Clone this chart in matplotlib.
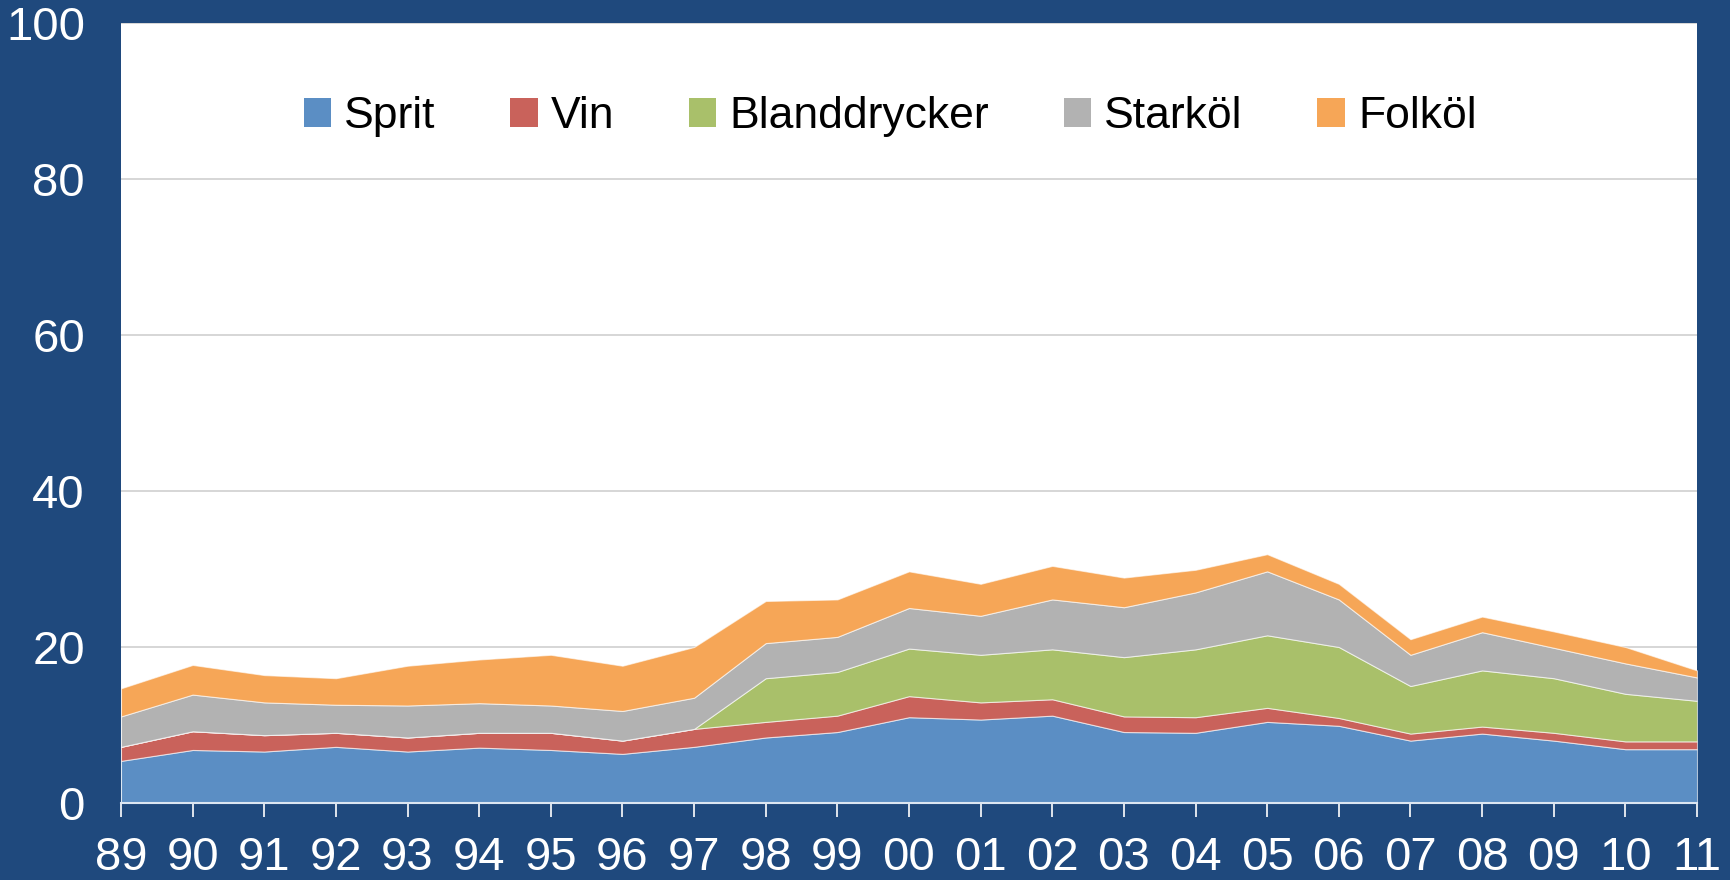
import matplotlib
matplotlib.use("Agg")
import matplotlib.pyplot as plt
from matplotlib.patches import Patch
import numpy as np

years = ["89", "90", "91", "92", "93", "94", "95", "96", "97", "98", "99", "00",
         "01", "02", "03", "04", "05", "06", "07", "08", "09", "10", "11"]

# cumulative tops
sprit_top = [5.4, 6.8, 6.6, 7.2, 6.6, 7.1, 6.8, 6.3, 7.2, 8.4, 9.1, 11.0,
             10.7, 11.2, 9.1, 9.0, 10.4, 9.9, 8.0, 8.9, 8.0, 6.9, 6.9]
vin_top = [7.2, 9.2, 8.7, 9.0, 8.4, 9.0, 9.0, 8.0, 9.5, 10.4, 11.2, 13.7,
           12.9, 13.3, 11.1, 11.0, 12.2, 10.9, 8.9, 9.8, 9.0, 7.9, 7.9]
bland_top = [7.2, 9.2, 8.7, 9.0, 8.4, 9.0, 9.0, 8.0, 9.5, 16.0, 16.8, 19.8,
             19.0, 19.7, 18.7, 19.7, 21.5, 20.0, 15.0, 17.0, 16.0, 14.0, 13.1]
stark_top = [11.1, 13.9, 12.9, 12.6, 12.5, 12.8, 12.5, 11.8, 13.5, 20.5, 21.3, 25.0,
             24.0, 26.1, 25.1, 27.0, 29.7, 26.1, 19.0, 21.9, 19.9, 17.9, 16.1]
folk_top = [14.7, 17.7, 16.4, 16.0, 17.6, 18.4, 19.0, 17.6, 20.0, 25.9, 26.1, 29.7,
            28.1, 30.4, 28.9, 29.9, 31.9, 28.1, 21.0, 23.9, 22.0, 20.0, 17.0]

labels = ["Sprit", "Vin", "Blanddrycker", "Starköl", "Folköl"]
colors = ["#5B8EC4", "#C9625B", "#A9C06A", "#B2B2B2", "#F6A657"]

tops = np.array([sprit_top, vin_top, bland_top, stark_top, folk_top])
layers = np.diff(np.vstack([np.zeros(len(years)), tops]), axis=0)

bg = "#1F497D"
plt.rcParams['font.family'] = ['Liberation Sans', 'DejaVu Sans']

fig = plt.figure(figsize=(17.31, 8.80), dpi=100, facecolor=bg)
ax = fig.add_axes([121/1731, 77/880, (1697-121)/1731, (803-23)/880])
ax.set_facecolor("white")

x = np.arange(len(years))
ax.stackplot(x, layers, colors=colors, edgecolor=(1, 1, 1, 0.6), linewidth=0.8,
             zorder=2)

ax.set_xlim(0, len(years) - 1)
ax.set_ylim(0, 100)
ax.set_yticks([0, 20, 40, 60, 80, 100])
ax.set_xticks(x)
ax.set_xticklabels(years)
ax.yaxis.grid(True, color="#D0D0D0", linewidth=1.2, zorder=1)
ax.set_axisbelow(True)

for s in ["top", "right", "left"]:
    ax.spines[s].set_visible(False)
ax.spines["bottom"].set_color("#DCE6F2")
ax.spines["bottom"].set_linewidth(1.5)
ax.spines["bottom"].set_zorder(3)

ax.tick_params(axis="x", colors="white", length=10, width=1.2, pad=14,
               labelsize=34, direction="out")
ax.tick_params(axis="y", colors="white", length=0, pad=26, labelsize=34)

handles = [Patch(facecolor=c, edgecolor="none", label=l) for c, l in zip(colors, labels)]
leg = ax.legend(handles=handles, ncol=5, loc="center", bbox_to_anchor=(0.488, 0.88),
                frameon=False, fontsize=32, handlelength=0.62, handleheight=0.62,
                handletextpad=0.3, columnspacing=1.67)

fig.savefig("out.png", dpi=100, facecolor=bg)
